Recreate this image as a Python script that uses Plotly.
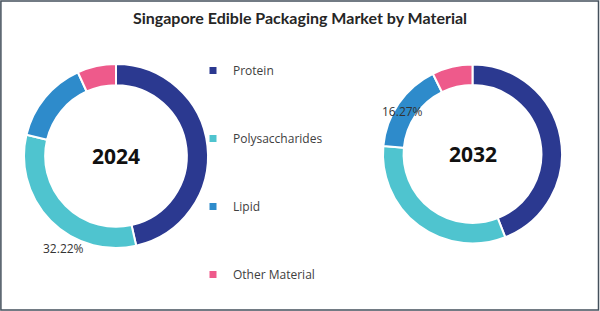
import plotly.graph_objects as go

materials = ["Protein", "Polysaccharides", "Lipid", "Other Material"]
years = ["2024", "2032"]
share_2024 = [46.48, 32.22, 14.50, 6.80]
share_2032 = [44.03, 32.40, 16.27, 7.30]
colors = ["#2B3990", "#4FC4CF", "#2E8BCB", "#EE5A8B"]

label_font = dict(family="Open Sans, Liberation Sans, sans-serif", size=12, color="#333333")

dom_l = dict(x=[24 / 600, 208 / 600], y=[63 / 311, 247 / 311])
dom_r = dict(x=[383 / 600, 562 / 600], y=[67.5 / 311, 246.5 / 311])

fig = go.Figure()

fig.add_trace(go.Pie(
    labels=materials, values=share_2024, hole=0.77, sort=False, direction="clockwise",
    rotation=0, marker=dict(colors=colors, line=dict(color="white", width=2)),
    textinfo="none", hoverinfo="label+percent", showlegend=False,
    domain=dom_l, name=years[0],
))
fig.add_trace(go.Pie(
    labels=materials, values=share_2032, hole=0.77, sort=False, direction="clockwise",
    rotation=0, marker=dict(colors=colors, line=dict(color="white", width=2)),
    textinfo="none", hoverinfo="label+percent", showlegend=False,
    domain=dom_r, name=years[1],
))

# legend entries (one group each so they can be spaced out)
for i, (m, c) in enumerate(zip(materials, colors)):
    fig.add_trace(go.Scatter(
        x=[None], y=[None], mode="markers", name=m,
        marker=dict(symbol="square", size=7, color=c),
        legendgroup=f"g{i}", showlegend=True, hoverinfo="skip",
    ))

year_font = dict(family="Open Sans, sans-serif", size=21, color="#111111")
for yr, dom in zip(years, [dom_l, dom_r]):
    fig.add_annotation(text=f"<b>{yr}</b>", x=sum(dom["x"]) / 2, y=sum(dom["y"]) / 2,
                       xref="paper", yref="paper", showarrow=False,
                       xanchor="center", yanchor="middle", font=year_font)

# percentage labels
fig.add_annotation(text=f"{share_2024[1]:.2f}%", x=63 / 600, y=1 - 248 / 311,
                   xref="paper", yref="paper", showarrow=False,
                   xanchor="center", yanchor="middle", font=label_font)
fig.add_annotation(text=f"{share_2032[2]:.2f}%", x=402.5 / 600, y=1 - 111 / 311,
                   xref="paper", yref="paper", showarrow=False,
                   xanchor="center", yanchor="middle", font=label_font)

# border
fig.add_shape(type="rect", xref="paper", yref="paper", x0=0.0015, y0=0.003, x1=0.9975, y1=0.997,
              line=dict(color="#44505C", width=1.5), fillcolor="rgba(0,0,0,0)")

fig.update_layout(
    width=600, height=311,
    margin=dict(l=0, r=0, t=0, b=0),
    paper_bgcolor="white", plot_bgcolor="white",
    title=dict(text="<b>Singapore Edible Packaging Market by Material</b>",
               x=0.5, xanchor="center", y=1 - 18 / 311, yanchor="middle",
               font=dict(family="Lato, Open Sans, sans-serif", size=16, color="#262626")),
    xaxis=dict(visible=False), yaxis=dict(visible=False),
    legend=dict(x=193 / 600, xanchor="left", y=1 - 56 / 311, yanchor="top",
                tracegroupgap=49, font=dict(family="Open Sans, sans-serif", size=12, color="#404040"),
                bgcolor="rgba(0,0,0,0)", itemclick=False, itemdoubleclick=False),
    showlegend=True,
)

fig.write_html("out.html")
